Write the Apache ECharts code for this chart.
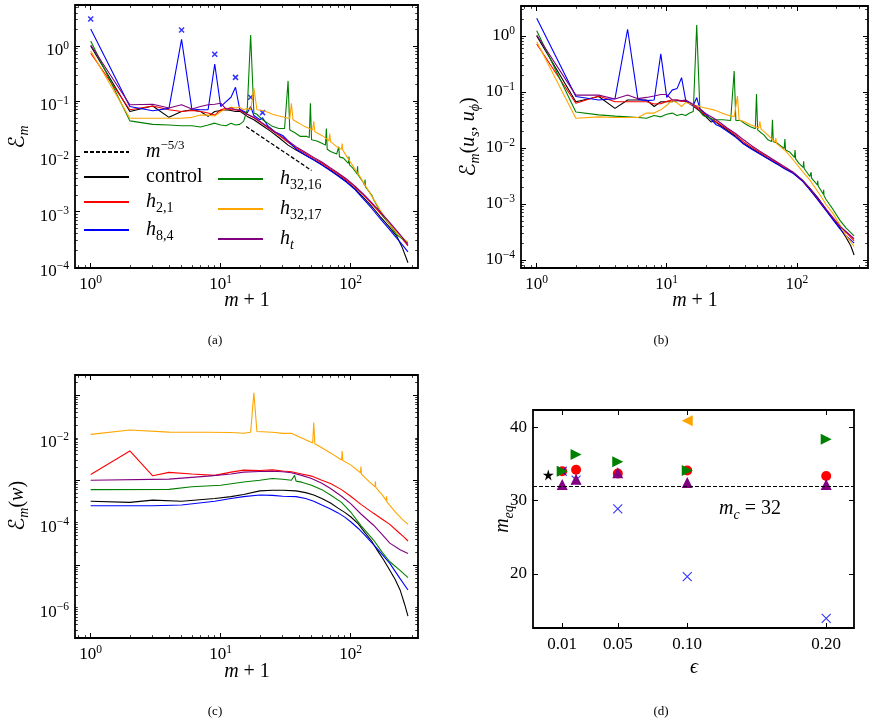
<!DOCTYPE html>
<html>
<head>
<meta charset="utf-8">
<script src="https://cdn.jsdelivr.net/npm/echarts@6/dist/echarts.min.js"></script>
<style>
  html, body { margin: 0; padding: 0; background: #fff; }
  #chart { width: 878px; height: 723px; }
</style>
</head>
<body>
<div id="chart"></div>
<script>
// ---- data: [m+1, value] ----
// (a) E_m
const a_control = [[1,1.0],[2,0.065],[3,0.082],[4,0.051],[5,0.065],[6,0.07],[7,0.065],[8,0.053],[9,0.065],[10,0.068],[11,0.07],[12,0.068],[13,0.065],[14,0.066],[16,0.053],[18,0.046],[21,0.036],[24,0.029],[28,0.022],[33,0.016],[38,0.013],[45,0.0105],[52,0.0087],[60,0.0071],[70,0.0056],[80,0.0045],[93,0.0035],[108,0.0026],[125,0.0018],[145,0.00125],[168,0.00082],[195,0.00055],[226,0.00036],[250,0.00022],[276,0.000118]];
const a_h21 = [[1,0.74],[2,0.07],[3,0.082],[4,0.07],[5,0.065],[6,0.068],[7,0.065],[8,0.061],[9,0.056],[10,0.07],[11,0.074],[12,0.07],[13,0.07],[14,0.068],[16,0.058],[18,0.05],[21,0.039],[24,0.031],[28,0.024],[33,0.018],[38,0.0142],[45,0.0112],[52,0.0092],[60,0.0075],[70,0.0059],[80,0.0048],[93,0.0037],[108,0.0028],[125,0.002],[145,0.0014],[168,0.00095],[195,0.00064],[226,0.00043],[250,0.00032],[276,0.00024]];
const a_h84 = [[1,2.03],[2,0.08],[3,0.067],[4,0.074],[5,1.32],[6,0.072],[7,0.07],[8,0.07],[9,0.47],[10,0.08],[11,0.098],[12,0.118],[13,0.179],[14,0.072],[15,0.066],[16,0.061],[17,0.08],[18,0.055],[20,0.046],[21,0.05],[23,0.036],[26,0.028],[30,0.024],[33,0.019],[38,0.0135],[45,0.0105],[52,0.0086],[60,0.007],[70,0.0055],[80,0.0044],[93,0.0034],[108,0.0025],[125,0.0017],[145,0.00115],[168,0.00075],[195,0.0005],[226,0.00033],[250,0.00025],[276,0.000186]];
const a_h3216 = [[1,1.23],[2,0.044],[3,0.038],[4,0.037],[5,0.036],[6,0.036],[7,0.034],[8,0.037],[9,0.04],[10,0.037],[11,0.036],[12,0.04],[13,0.037],[14,0.038],[15,0.043],[16,0.07],[17,1.58],[18,0.061],[19,0.058],[21,0.046],[23,0.04],[25,0.035],[28,0.032],[31,0.032],[32,0.031],[33,0.233],[34,0.03],[37,0.027],[41,0.023],[46,0.023],[48,0.022],[49,0.092],[50,0.02],[55,0.019],[60,0.0173],[64,0.016],[65,0.032],[66,0.0135],[70,0.0123],[78,0.011],[80,0.0105],[81,0.015],[82,0.0098],[88,0.0093],[96,0.0075],[97,0.0099],[98,0.007],[104,0.0061],[112,0.0048],[113,0.0066],[114,0.0046],[125,0.0034],[128,0.003],[129,0.0038],[130,0.0028],[145,0.002],[150,0.00165],[165,0.0011],[178,0.00082],[200,0.00058],[226,0.00038],[250,0.00032],[276,0.00027]];
const a_h3217 = [[1,0.81],[2,0.049],[3,0.049],[4,0.049],[5,0.049],[6,0.051],[7,0.056],[8,0.056],[9,0.054],[10,0.065],[11,0.072],[12,0.078],[13,0.075],[14,0.078],[15,0.07],[16,0.074],[17,0.07],[18,0.172],[19,0.07],[21,0.068],[23,0.063],[25,0.058],[28,0.054],[31,0.051],[34,0.048],[35,0.092],[36,0.046],[40,0.04],[44,0.035],[48,0.032],[51,0.03],[52,0.043],[53,0.028],[60,0.024],[65,0.021],[68,0.019],[69,0.026],[70,0.0185],[78,0.015],[85,0.0135],[86,0.017],[87,0.013],[98,0.0083],[118,0.0043],[140,0.0022],[168,0.00108],[200,0.00058],[240,0.00036],[276,0.00028]];
const a_ht = [[1,1.04],[2,0.086],[3,0.088],[4,0.075],[5,0.086],[6,0.072],[7,0.08],[8,0.086],[9,0.088],[10,0.092],[11,0.072],[12,0.075],[13,0.07],[14,0.07],[16,0.058],[18,0.051],[21,0.04],[24,0.032],[28,0.025],[33,0.019],[38,0.015],[45,0.0118],[52,0.0096],[60,0.0079],[70,0.0062],[80,0.005],[93,0.0039],[108,0.0029],[125,0.0021],[145,0.00145],[168,0.001],[195,0.00068],[226,0.00045],[250,0.00034],[276,0.00025]];
const a_slope = [[15.7,0.0347],[50,0.00556]];
const a_marks = [[1,3.08],[5,1.95],[9,0.71],[13,0.27],[17,0.118],[21,0.062]];

// (b) E_m(u_s, u_phi)
const b_control = [[1,1.0],[2,0.067],[3,0.083],[4,0.051],[5,0.072],[6,0.072],[7,0.072],[8,0.055],[9,0.067],[10,0.067],[11,0.067],[12,0.07],[13,0.07],[14,0.068],[16,0.056],[18,0.045],[20,0.036],[22,0.029],[23,0.031],[26,0.025],[29,0.021],[34,0.016],[39,0.012],[45,0.0098],[52,0.008],[60,0.0065],[70,0.0053],[80,0.0044],[94,0.0036],[110,0.0027],[126,0.0019],[145,0.0013],[169,0.00078],[190,0.00054],[215,0.00037],[240,0.00025],[260,0.00018],[276,0.000123]];
const b_h21 = [[1,0.72],[2,0.063],[3,0.085],[4,0.067],[5,0.067],[6,0.067],[7,0.067],[8,0.061],[9,0.062],[10,0.068],[11,0.072],[12,0.072],[13,0.068],[14,0.07],[16,0.058],[18,0.047],[20,0.038],[23,0.031],[26,0.026],[29,0.022],[34,0.017],[39,0.0128],[45,0.0103],[52,0.0084],[60,0.0068],[70,0.0055],[80,0.0045],[94,0.0036],[110,0.0026],[126,0.0018],[145,0.0012],[169,0.00075],[190,0.00055],[215,0.0004],[240,0.00031],[276,0.00022]];
const b_h84 = [[1,2.07],[2,0.083],[3,0.072],[4,0.076],[5,1.32],[6,0.074],[7,0.07],[8,0.072],[9,0.48],[10,0.08],[11,0.108],[12,0.115],[13,0.18],[14,0.07],[15,0.062],[16,0.058],[17,0.079],[18,0.05],[20,0.04],[22,0.032],[24,0.026],[26,0.024],[29,0.02],[34,0.0155],[39,0.0118],[45,0.0095],[52,0.0078],[60,0.0064],[70,0.0052],[80,0.0043],[94,0.0035],[110,0.0026],[126,0.0018],[145,0.0012],[169,0.00075],[190,0.00052],[215,0.00036],[240,0.00027],[276,0.0002]];
const b_h3216 = [[1,1.24],[2,0.044],[3,0.039],[4,0.037],[5,0.036],[6,0.035],[7,0.034],[8,0.038],[9,0.036],[10,0.04],[11,0.042],[12,0.038],[13,0.04],[14,0.038],[15,0.042],[16,0.045],[17,1.57],[18,0.045],[19,0.038],[21,0.035],[23,0.032],[27,0.032],[31,0.031],[32,0.031],[33,0.237],[34,0.031],[37,0.031],[40,0.027],[44,0.024],[48,0.022],[49,0.092],[50,0.021],[52,0.0195],[56,0.017],[60,0.014],[64,0.013],[65,0.032],[66,0.013],[70,0.0124],[75,0.011],[80,0.0098],[81,0.0145],[82,0.0092],[88,0.0085],[96,0.0068],[97,0.0092],[98,0.0064],[104,0.0053],[112,0.0045],[113,0.0058],[114,0.0043],[126,0.0031],[128,0.003],[129,0.0037],[130,0.0029],[144,0.0022],[145,0.0026],[146,0.0021],[160,0.0015],[161,0.0018],[162,0.0014],[169,0.00118],[190,0.0008],[215,0.00051],[240,0.00037],[276,0.00027]];
const b_h3217 = [[1,0.79],[2,0.034],[3,0.036],[4,0.035],[5,0.035],[6,0.035],[7,0.042],[8,0.042],[9,0.048],[10,0.058],[11,0.07],[12,0.064],[13,0.055],[14,0.065],[16,0.059],[19,0.053],[23,0.048],[29,0.039],[33,0.036],[34,0.035],[35,0.085],[36,0.032],[40,0.029],[44,0.026],[51,0.0228],[52,0.03],[53,0.022],[60,0.017],[68,0.0128],[69,0.015],[70,0.012],[83,0.0086],[94,0.0061],[111,0.0038],[126,0.0027],[151,0.00145],[169,0.00096],[190,0.00068],[215,0.00042],[240,0.00027],[276,0.000174]];
const b_ht = [[1,1.04],[2,0.088],[3,0.088],[4,0.075],[5,0.088],[6,0.076],[7,0.08],[8,0.085],[9,0.09],[10,0.09],[11,0.072],[12,0.072],[13,0.07],[14,0.072],[16,0.06],[18,0.05],[20,0.041],[23,0.034],[26,0.028],[29,0.023],[34,0.018],[39,0.014],[45,0.011],[52,0.0088],[60,0.0071],[70,0.0057],[80,0.0047],[94,0.0037],[110,0.0027],[126,0.0019],[145,0.00128],[169,0.0008],[190,0.00057],[215,0.0004],[240,0.00032],[276,0.00024]];

// (c) E_m(w)
const c_control = [[1,0.00032],[2,0.0003],[3,0.00034],[5,0.00032],[9,0.00037],[12,0.00041],[15,0.00046],[20,0.00056],[25,0.00058],[30,0.00058],[38,0.00056],[45,0.00051],[52,0.00045],[60,0.00037],[70,0.00029],[80,0.00022],[90,0.000175],[100,0.000138],[115,0.000092],[130,0.000056],[145,0.000037],[160,0.0000225],[180,0.000013],[200,0.0000076],[220,0.0000046],[240,0.0000026],[260,0.0000012],[276,0.00000063]];
const c_h21 = [[1,0.00137],[2,0.0049],[3,0.00127],[4,0.00153],[6,0.0014],[9,0.0013],[12,0.00155],[15,0.00173],[20,0.0017],[25,0.00175],[30,0.00165],[35,0.00158],[42,0.0014],[50,0.00125],[60,0.001],[70,0.00084],[85,0.0006],[100,0.00042],[120,0.00027],[150,0.000166],[175,0.00012],[200,0.000091],[230,0.000062],[255,0.000047],[276,0.000037]];
const c_h84 = [[1,0.00025],[3,0.00025],[5,0.00026],[9,0.00032],[12,0.00037],[15,0.00041],[20,0.00045],[25,0.00044],[30,0.00042],[38,0.00041],[45,0.00037],[52,0.00032],[60,0.00026],[70,0.00021],[80,0.00017],[90,0.000135],[100,0.000105],[115,0.000072],[130,0.000049],[160,0.0000246],[200,0.000011],[240,0.0000048],[276,0.0000026]];
const c_h3216 = [[1,0.0006],[4,0.00061],[6,0.0007],[10,0.00076],[15,0.00091],[20,0.001],[25,0.0011],[30,0.00105],[35,0.001],[37,0.0013],[38,0.00095],[42,0.0009],[50,0.00076],[60,0.0006],[70,0.00045],[85,0.0003],[100,0.000178],[120,0.000085],[150,0.000039],[175,0.00002],[200,0.000012],[240,0.0000075],[276,0.0000051]];
const c_h3217 = [[1,0.012],[2,0.0152],[4,0.0136],[8,0.0135],[12,0.0133],[15,0.0128],[17,0.0135],[18,0.115],[19,0.014],[25,0.0135],[30,0.0127],[35,0.0128],[40,0.0105],[45,0.009],[51,0.0075],[52,0.023],[53,0.0072],[60,0.0058],[70,0.0044],[85,0.003],[86,0.0049],[87,0.0029],[100,0.0023],[119,0.0015],[120,0.0021],[121,0.0014],[140,0.0009],[154,0.0007],[155,0.00095],[156,0.00068],[175,0.00045],[188,0.00033],[189,0.00042],[190,0.00031],[220,0.00018],[250,0.00012],[276,0.000091]];
const c_ht = [[1,0.001],[4,0.00106],[8,0.00125],[12,0.0014],[15,0.00155],[20,0.0016],[25,0.00163],[30,0.00158],[35,0.0015],[42,0.0013],[50,0.0011],[60,0.00085],[70,0.00064],[85,0.00042],[100,0.00028],[120,0.00016],[150,0.000087],[175,0.000052],[200,0.000033],[240,0.000023],[276,0.0000187]];

// (d) m_eq against epsilon
const d_control = [[0.0,33.5]];
const d_h21 = [[0.01,34.0],[0.02,34.2],[0.05,33.7],[0.10,34.1],[0.20,33.35]];
const d_h84 = [[0.01,34.0],[0.02,32.8],[0.05,28.85],[0.10,19.6],[0.20,13.9]];
const d_h3216 = [[0.01,34.0],[0.02,36.3],[0.05,35.3],[0.10,34.1],[0.20,38.35]];
const d_h3217 = [[0.10,40.9]];
const d_ht = [[0.01,32.2],[0.02,32.9],[0.05,33.8],[0.10,32.45],[0.20,32.2]];
const M_C = 32;

const d_xticks = [0.01, 0.05, 0.10, 0.20];
const d_yticks = [20, 30, 40];

// ---- styling ----
const SERIF = "'Liberation Serif', 'DejaVu Serif', serif";
const COLORS = { control: '#000000', h21: '#ff0000', h84: '#0000ff', h3216: '#008000', h3217: '#ffa500', ht: '#800080' };

const RICH = {
  b: { fontFamily: SERIF, fontSize: 17, lineHeight: 22, color: '#000' },
  s: { fontFamily: SERIF, fontSize: 11.5, lineHeight: 12, verticalAlign: 'top', color: '#000' }
};
const TR = {
  i: { fontFamily: SERIF, fontStyle: 'italic', fontSize: 20, lineHeight: 26, color: '#000' },
  r: { fontFamily: SERIF, fontSize: 20, lineHeight: 26, color: '#000' },
  e: { fontFamily: "'DejaVu Serif', 'DejaVu Sans'", fontSize: 22, lineHeight: 26, color: '#000' },
  sub: { fontFamily: SERIF, fontStyle: 'italic', fontSize: 14, lineHeight: 13, verticalAlign: 'bottom', color: '#000' },
  subr: { fontFamily: SERIF, fontSize: 14, lineHeight: 13, verticalAlign: 'bottom', color: '#000' },
  sup: { fontFamily: SERIF, fontSize: 13, lineHeight: 13, verticalAlign: 'top', color: '#000' },
  sp: { width: 12 }
};

function powLabel(v) {
  const e = Math.round(Math.log10(v));
  return '{b|10}{s|' + (e < 0 ? '\u2212' + (-e) : e) + '}';
}
// major / minor tick values of a log axis between 10^lo and 10^hi
function decades(lo, hi, step) {
  const major = [], minor = [];
  for (let e = lo; e <= hi; e++) {
    const p = Math.pow(10, e);
    if ((e - lo) % step === 0) major.push(p); else minor.push(p);
    for (let k = 2; k <= 9; k++) minor.push(k * p);
  }
  return { major, minor };
}

const GRIDS = [
  { left: 75, top: 5, width: 343, height: 263 },
  { left: 521, top: 6, width: 347, height: 262 },
  { left: 75, top: 375, width: 343, height: 263 },
  { left: 533, top: 410, width: 321, height: 218 }
];

const xAxes = [], yAxes = [], panels = [];
function axis(type, grid, side, ext, labels, fmt, extraLabel) {
  return {
    type, gridIndex: grid, position: side, min: ext[0], max: ext[1],
    axisLine: { show: false, onZero: false }, splitLine: { show: false }, minorTick: { show: false },
    axisTick: { show: false }, axisPointer: { show: false },
    axisLabel: Object.assign({ show: true, customValues: labels, formatter: fmt, color: '#000', rich: RICH,
      fontFamily: SERIF, fontSize: 17, margin: 6 }, extraLabel || {})
  };
}
function addPanel(grid, xt, xext, xd, xl, xfmt, yt, yext, yd, yl, yfmt, ylab) {
  const p = [xAxes.length, yAxes.length];
  xAxes.push(axis(xt, grid, 'bottom', xext, xl, xfmt, {}));
  yAxes.push(axis(yt, grid, 'left', yext, yl, yfmt, ylab));
  panels.push({ grid, p, xt, yt, xext, yext, xd, yd });
  return p;
}

const A_X = [0.757, 329.6], A_Y = [9.5e-5, 5.53];
const B_X = [0.757, 353], B_Y = [7.2e-5, 3.43];
const C_X = [0.757, 329.6], C_Y = [1.92e-7, 0.301];
const D_X = [-0.011, 0.22], D_Y = [12.6, 42.36];
const xDec = decades(-1, 2, 1);
const yDecA = decades(-5, 0, 1);
const yDecC = decades(-7, -1, 2);
const pA = addPanel(0, 'log', A_X, xDec, [1, 10, 100], powLabel, 'log', A_Y, yDecA, [1e-4, 1e-3, 1e-2, 1e-1, 1], powLabel, { padding: [9, 0, 0, 0] });
const pB = addPanel(1, 'log', B_X, xDec, [1, 10, 100], powLabel, 'log', B_Y, yDecA, [1e-4, 1e-3, 1e-2, 1e-1, 1], powLabel, {});
const pC = addPanel(2, 'log', C_X, xDec, [1, 10, 100], powLabel, 'log', C_Y, yDecC, [1e-6, 1e-4, 1e-2], powLabel, { padding: [9, 0, 0, 0] });
const pD = addPanel(3, 'value', D_X, { major: d_xticks, minor: [] }, d_xticks, v => '{b|' + v.toFixed(2) + '}',
  'value', D_Y, { major: d_yticks, minor: [] }, d_yticks, v => '{b|' + v + '}', {});

// inward ticks on all four sides as short segments in data space ('lines' series on each grid)
const MAJ = 5, MIN = 2.8;
function inward(v0, v1, d, S, isLog) {
  return isLog ? v0 * Math.pow(v1 / v0, d / S) : v0 + (v1 - v0) * d / S;
}
function tickSeries(P) {
  const g = GRIDS[P.grid], xl = P.xt === 'log', yl = P.yt === 'log';
  const [x0, x1] = P.xext, [y0, y1] = P.yext;
  const data = [];
  const add = (coords, w) => data.push({ coords, lineStyle: { width: w } });
  [[P.xd.major, MAJ, 1], [P.xd.minor, MIN, 0.8]].forEach(([vals, len, w]) => vals.filter(v => v >= x0 && v <= x1).forEach(v => {
    add([[v, y0], [v, inward(y0, y1, len, g.height, yl)]], w);
    add([[v, y1], [v, inward(y1, y0, len, g.height, yl)]], w);
  }));
  [[P.yd.major, MAJ, 1], [P.yd.minor, MIN, 0.8]].forEach(([vals, len, w]) => vals.filter(v => v >= y0 && v <= y1).forEach(v => {
    add([[x0, v], [inward(x0, x1, len, g.width, xl), v]], w);
    add([[x1, v], [inward(x1, x0, len, g.width, xl), v]], w);
  }));
  return { type: 'lines', coordinateSystem: 'cartesian2d', xAxisIndex: P.p[0], yAxisIndex: P.p[1],
    data, silent: true, animation: false, clip: false, z: 10, polyline: false, effect: { show: false },
    lineStyle: { color: '#000', width: 1, opacity: 1, curveness: 0 } };
}

function line(name, data, p, extra) {
  return Object.assign({
    type: 'line', name, data, xAxisIndex: p[0], yAxisIndex: p[1],
    symbol: 'none', showSymbol: false, silent: true, animation: false,
    lineStyle: { color: COLORS[name], width: 1.1 }, itemStyle: { color: COLORS[name] },
    emphasis: { disabled: true }
  }, extra || {});
}
function dots(name, data, symbol, size, extra) {
  return Object.assign({
    type: 'scatter', name, data, xAxisIndex: pD[0], yAxisIndex: pD[1],
    symbol, symbolSize: size, silent: true, animation: false,
    itemStyle: { color: COLORS[name], opacity: 1 }, emphasis: { disabled: true }
  }, extra || {});
}

const XPATH = 'path://M0,0 L10,10 M10,0 L0,10';
const STAR = 'path://M50,0 L61,35 L98,35 L68,57 L79,91 L50,70 L21,91 L32,57 L2,35 L39,35 Z';

const series = [
  line('m53', a_slope, pA, { lineStyle: { color: '#000', width: 1.3, type: [4, 2] }, itemStyle: { color: '#000' } }),
  line('control', a_control, pA), line('h21', a_h21, pA), line('h84', a_h84, pA),
  line('h3216', a_h3216, pA), line('h3217', a_h3217, pA), line('ht', a_ht, pA),
  { type: 'scatter', name: 'marks', data: a_marks, xAxisIndex: pA[0], yAxisIndex: pA[1], symbol: XPATH, symbolSize: 5,
    silent: true, animation: false, itemStyle: { color: 'rgba(0,0,0,0)', borderColor: '#0000ff', borderWidth: 1.5 } },
  line('control', b_control, pB), line('h21', b_h21, pB), line('h84', b_h84, pB),
  line('h3216', b_h3216, pB), line('h3217', b_h3217, pB), line('ht', b_ht, pB),
  line('control', c_control, pC), line('h21', c_h21, pC), line('h84', c_h84, pC),
  line('h3216', c_h3216, pC), line('h3217', c_h3217, pC), line('ht', c_ht, pC),
  dots('control', d_control, STAR, 11, {
    markLine: { silent: true, symbol: 'none', animation: false, label: { show: false },
      lineStyle: { color: '#000', type: [4, 2], width: 1 }, data: [{ yAxis: M_C }] }
  }),
  dots('h21', d_h21, 'circle', 10),
  dots('h84', d_h84, XPATH, 9, { itemStyle: { color: 'rgba(0,0,0,0)', borderColor: '#0000ff', borderWidth: 1.1 } }),
  dots('h3216', d_h3216, 'triangle', 11, { symbolRotate: -90 }),
  dots('h3217', d_h3217, 'triangle', 11, { symbolRotate: 90 }),
  dots('ht', d_ht, 'triangle', 11)
].concat(panels.map(tickSeries));

const LEG = {
  m53: '{sp| }{i|m}{sup|\u22125/3}',
  control: '{sp| }{r|control}',
  h21: '{sp| }{i|h}{subr|2,1}',
  h84: '{sp| }{i|h}{subr|8,4}',
  h3216: '{sp| }{i|h}{subr|32,16}',
  h3217: '{sp| }{i|h}{subr|32,17}',
  ht: '{sp| }{i|h}{sub|t}'
};
const legendBase = {
  orient: 'vertical', itemWidth: 45, itemHeight: 12, selectedMode: false,
  itemStyle: { opacity: 0 },
  formatter: n => LEG[n], textStyle: { rich: TR, color: '#000' }, padding: 0
};

function txt(x, y, text, rot) {
  return { type: 'text', x, y, rotation: rot || 0, silent: true, z: 50,
    style: { text, rich: TR, align: 'center', verticalAlign: 'middle', fill: '#000', fontFamily: SERIF, fontSize: 20 } };
}
const cap = (x, y, t) => ({ type: 'text', x, y, silent: true, z: 50,
  style: { text: t, fontFamily: SERIF, fontSize: 13, fill: '#000', align: 'center', verticalAlign: 'middle' } });

const gridBase = { show: true, borderColor: '#000', borderWidth: 1.8, backgroundColor: 'rgba(0,0,0,0)', containLabel: false, outerBoundsMode: 'none' };

const chart = echarts.init(document.getElementById('chart'), null, { renderer: 'canvas' });
chart.setOption({
  animation: false,
  backgroundColor: '#fff',
  textStyle: { fontFamily: SERIF, color: '#000' },
  grid: GRIDS.map(g => Object.assign({}, g, gridBase)),
  xAxis: xAxes,
  yAxis: yAxes,
  legend: [
    Object.assign({ data: ['m53', 'control', 'h21', 'h84'], left: 83, top: 139, itemGap: 5 }, legendBase),
    Object.assign({ data: ['h3216', 'h3217', 'ht'], left: 217, top: 169, itemGap: 7 }, legendBase)
  ],
  series,
  graphic: [
    txt(18, 137, '{e|\u2130}{sub|m}', Math.PI / 2),
    txt(469, 137, '{e|\u2130}{sub|m}{r|(}{i|u}{sub|s}{r|, }{i|u}{sub|\u03d5}{r|)}', Math.PI / 2),
    txt(18, 506, '{e|\u2130}{sub|m}{r|(}{i|w}{r|)}', Math.PI / 2),
    txt(503, 519, '{i|m}{sub|eq}', Math.PI / 2),
    txt(247, 301, '{i|m}{r| + 1}'),
    txt(695, 301, '{i|m}{r| + 1}'),
    txt(247, 672, '{i|m}{r| + 1}'),
    txt(694, 668, '{i|\u03f5}'),
    txt(750, 509, '{i|m}{sub|c}{r| = 32}'),
    cap(215, 341, '(a)'), cap(661, 341, '(b)'), cap(215, 712, '(c)'), cap(661, 712, '(d)')
  ]
});
</script>
</body>
</html>
